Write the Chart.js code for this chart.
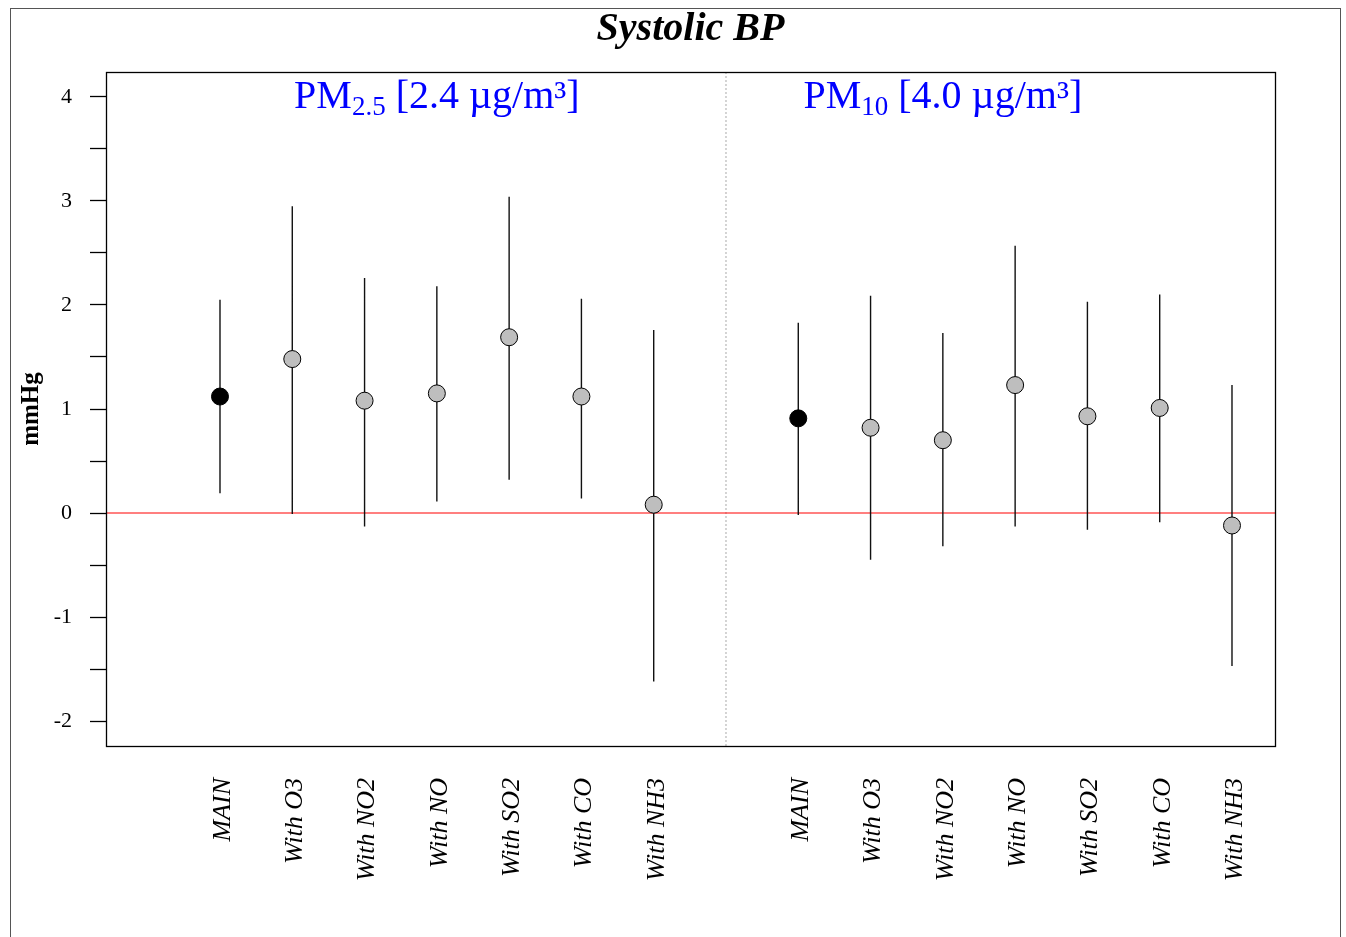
<!DOCTYPE html>
<html>
<head>
<meta charset="utf-8">
<script src="https://cdn.jsdelivr.net/npm/chart.js@4.4.0/dist/chart.umd.min.js"></script>
<style>
  html, body { margin: 0; padding: 0; background: #fff; }
  canvas { display: block; }
</style>
</head>
<body>
<canvas id="c" width="1346" height="937"></canvas>
<script>
// ---- data ----
const groupLabels = ['MAIN', 'With O3', 'With NO2', 'With NO', 'With SO2', 'With CO', 'With NH3'];
const pm25Pos = [1, 2, 3, 4, 5, 6, 7];
const pm10Pos = [9, 10, 11, 12, 13, 14, 15];
const pm25Est = [1.12, 1.48, 1.08, 1.15, 1.69, 1.12, 0.08];
const pm25Lo  = [0.19, -0.01, -0.13, 0.11, 0.32, 0.14, -1.62];
const pm25Hi  = [2.05, 2.95, 2.26, 2.18, 3.04, 2.06, 1.76];
const pm10Est = [0.91, 0.82, 0.70, 1.23, 0.93, 1.01, -0.12];
const pm10Lo  = [-0.02, -0.45, -0.32, -0.13, -0.16, -0.09, -1.47];
const pm10Hi  = [1.83, 2.09, 1.73, 2.57, 2.03, 2.10, 1.23];
const yTickValues = [-2, -1.5, -1, -0.5, 0, 0.5, 1, 1.5, 2, 2.5, 3, 3.5, 4];
const chartTitle = 'Systolic BP';
const yTitle = 'mmHg';
const panelTitles = [
  { main: 'PM', sub: '2.5', rest: ' [2.4 \u00b5g/m\u00b3]', at: 4 },
  { main: 'PM', sub: '10', rest: ' [4.0 \u00b5g/m\u00b3]', at: 11 }
];
const xMin = -0.577, xMax = 15.595, yMin = -2.24, yMax = 4.24, dividerAt = 8;

// ---- derived datasets ----
const allPos = pm25Pos.concat(pm10Pos);
const allLabels = groupLabels.concat(groupLabels);
function bars(pos, lo, hi) {
  const out = [];
  pos.forEach((p, i) => { out.push({x: p, y: lo[i]}, {x: p, y: hi[i]}, {x: p, y: null}); });
  return out;
}
const barData = bars(pm25Pos, pm25Lo, pm25Hi).concat(bars(pm10Pos, pm10Lo, pm10Hi));
const mainPts = [{x: pm25Pos[0], y: pm25Est[0]}, {x: pm10Pos[0], y: pm10Est[0]}];
const otherPts = pm25Pos.slice(1).map((p, i) => ({x: p, y: pm25Est[i + 1]}))
  .concat(pm10Pos.slice(1).map((p, i) => ({x: p, y: pm10Est[i + 1]})));

const serif = '"Liberation Serif", "Times New Roman", serif';

const decor = {
  id: 'decor',
  beforeDraw(chart) {
    const ctx = chart.ctx;
    ctx.save();
    ctx.fillStyle = '#fff';
    ctx.fillRect(0, 0, chart.width, chart.height);
    ctx.strokeStyle = '#555';
    ctx.lineWidth = 1;
    ctx.strokeRect(10.5, 8.5, 1330, 940);
    ctx.restore();
  },
  afterDraw(chart) {
    const ctx = chart.ctx, a = chart.chartArea;
    const xs = chart.scales.x;
    ctx.save();
    // plot box
    ctx.strokeStyle = '#000';
    ctx.lineWidth = 1.3;
    ctx.strokeRect(Math.round(a.left) + 0.5, Math.round(a.top) + 0.5, Math.round(a.right - a.left), Math.round(a.bottom - a.top));
    // main title
    ctx.fillStyle = '#000';
    ctx.font = 'italic bold 40px ' + serif;
    ctx.textAlign = 'center';
    ctx.textBaseline = 'alphabetic';
    ctx.fillText(chartTitle, (a.left + a.right) / 2, 40);
    // panel titles
    panelTitles.forEach(t => {
      const big = '40px ' + serif, small = '27px ' + serif;
      ctx.font = big; const w1 = ctx.measureText(t.main).width; const w3 = ctx.measureText(t.rest).width;
      ctx.font = small; const w2 = ctx.measureText(t.sub).width;
      const total = w1 + w2 + w3;
      let x = xs.getPixelForValue(t.at) - total / 2;
      const base = 108;
      ctx.fillStyle = '#0000ff';
      ctx.textAlign = 'left';
      ctx.font = big; ctx.fillText(t.main, x, base); x += w1;
      ctx.font = small; ctx.fillText(t.sub, x, base + 7); x += w2;
      ctx.font = big; ctx.fillText(t.rest, x, base);
    });
    ctx.restore();
  }
};

new Chart(document.getElementById('c'), {
  type: 'scatter',
  data: {
    datasets: [
      { // main estimates
        data: mainPts, order: 0, pointRadius: 8.5, pointHoverRadius: 8.5,
        backgroundColor: '#000', borderColor: '#000', borderWidth: 1, showLine: false
      },
      { // adjusted estimates
        data: otherPts, order: 0, pointRadius: 8.5, pointHoverRadius: 8.5,
        backgroundColor: '#bebebe', borderColor: '#000', borderWidth: 1, showLine: false
      },
      { // confidence intervals
        data: barData, order: 1, showLine: true, spanGaps: false, pointRadius: 0,
        borderColor: '#111', borderWidth: 1.4
      },
      { // zero reference line
        data: [{x: xMin, y: 0}, {x: xMax, y: 0}], order: 2, showLine: true, pointRadius: 0,
        borderColor: '#ff0000', borderWidth: 1.2
      },
      { // divider between panels
        data: [{x: dividerAt, y: yMin}, {x: dividerAt, y: yMax}], order: 2, showLine: true, pointRadius: 0,
        borderColor: '#aaaaaa', borderWidth: 1, borderDash: [2, 2]
      }
    ]
  },
  options: {
    responsive: false,
    animation: false,
    events: [],
    layout: { padding: { left: 10, right: 71, top: 72, bottom: 0 } },
    plugins: { legend: { display: false }, tooltip: { enabled: false }, title: { display: false } },
    scales: {
      x: {
        type: 'linear', min: xMin, max: xMax,
        afterBuildTicks(s) { s.ticks = allPos.map(v => ({value: v})); },
        afterFit(s) { s.height = 191; },
        grid: { display: false, drawTicks: false },
        border: { display: false },
        ticks: {
          autoSkip: false, minRotation: 90, maxRotation: 90, padding: 32, labelOffset: 3,
          color: '#000', font: { family: serif, size: 26, style: 'italic' },
          callback(v) { const i = allPos.indexOf(v); return i >= 0 ? allLabels[i] : ''; }
        }
      },
      y: {
        type: 'linear', min: yMin, max: yMax,
        afterBuildTicks(s) { s.ticks = yTickValues.map(v => ({value: v})); },
        afterFit(s) { s.width = 96; },
        grid: { drawOnChartArea: false, drawTicks: true, tickLength: 16, color: '#000', tickWidth: 1.3 },
        border: { display: false },
        ticks: {
          padding: 18, color: '#000', font: { family: serif, size: 22 },
          callback(v) { return Number.isInteger(v) ? String(v) : ''; }
        },
        title: {
          display: true, text: yTitle, color: '#000', padding: { top: 7, bottom: 0 },
          font: { family: serif, size: 25, weight: 'bold' }
        }
      }
    }
  },
  plugins: [decor]
});
</script>
</body>
</html>
